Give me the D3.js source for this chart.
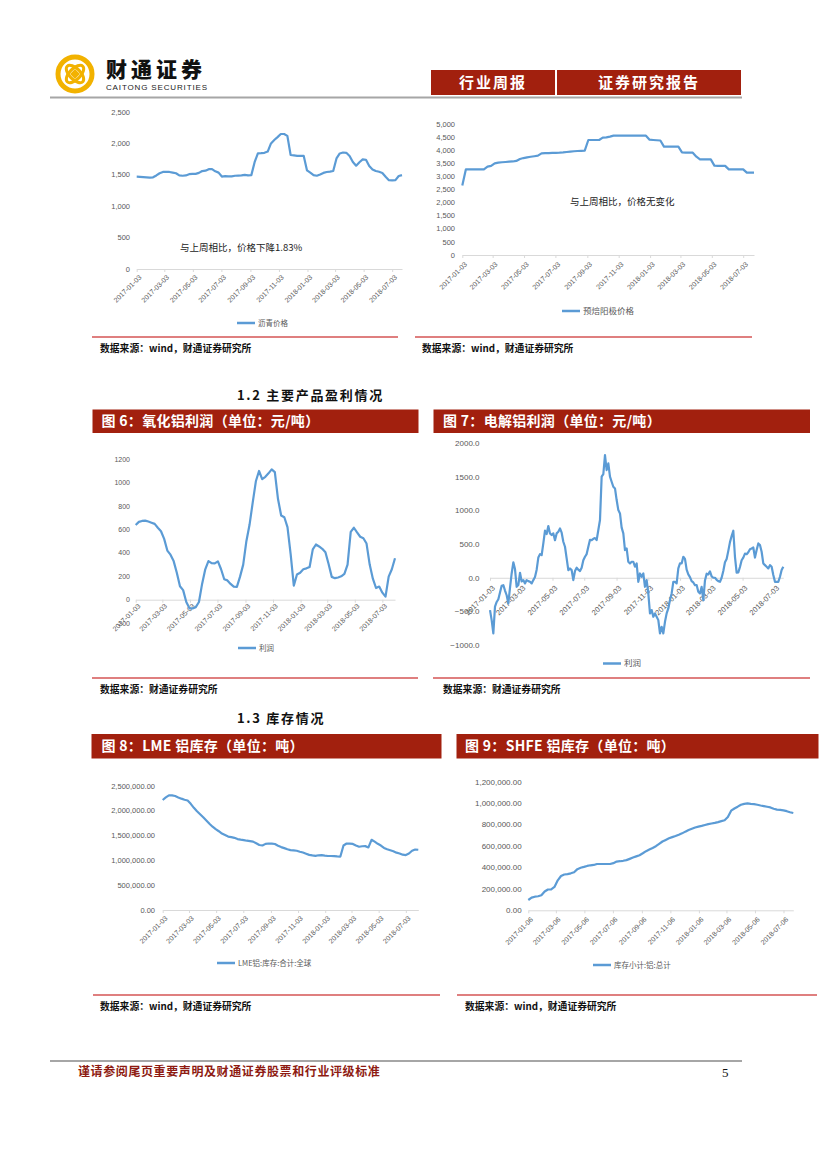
<!DOCTYPE html>
<html><head><meta charset="utf-8">
<script src="https://cdn.jsdelivr.net/npm/d3@7"></script>
<style>body{margin:0;background:#fff}svg{display:block}</style>
</head><body>
<svg id="page" width="827" height="1170"></svg>
<script>
// ---------------- DATA ----------------
const ticksA = ["2017-01-03","2017-03-03","2017-05-03","2017-07-03","2017-09-03","2017-11-03","2018-01-03","2018-03-03","2018-05-03","2018-07-03"];
const ticksB = ["2017-01-06","2017-03-06","2017-05-06","2017-07-06","2017-09-06","2017-11-06","2018-01-06","2018-03-06","2018-05-06","2018-07-06"];

// Fig (top-left): weekly from 2017-01-03
const cokePrice = [1470,1467,1463,1460,1455,1460,1490,1525,1545,1545,
 1545,1535,1525,1490,1485,1490,1510,1515,1515,1530,
 1560,1565,1590,1590,1555,1535,1472,1478,1475,1475,
 1485,1488,1490,1500,1490,1495,1700,1842,1845,1850,
 1870,2000,2054,2100,2150,2150,2120,1815,1808,1800,
 1800,1800,1570,1535,1495,1485,1505,1530,1545,1550,
 1560,1760,1840,1855,1850,1800,1705,1645,1700,1745,
 1740,1640,1585,1560,1548,1530,1470,1415,1410,1415,
 1480,1495];
const cokeTicks = [0,500,1000,1500,2000,2500];

// Fig (top-right): weekly from 2017-01-03
const anodePrice = [2650,3270,3270,3270,3270,3270,3270,3372,3400,3500,
 3525,3540,3550,3562,3570,3590,3664,3700,3728,3750,
 3770,3790,3880,3885,3890,3895,3900,3905,3915,3931,
 3945,3960,3970,3975,3982,4389,4389,4389,4389,4478,
 4490,4520,4555,4555,4555,4555,4555,4555,4555,4555,
 4555,4555,4400,4389,4380,4370,4135,4135,4135,4135,
 4135,3918,3910,3905,3905,3753,3651,3651,3651,3651,
 3410,3405,3400,3400,3270,3270,3270,3270,3270,3142,
 3142,3142];
const anodeTicks = [0,500,1000,1500,2000,2500,3000,3500,4000,4500,5000];

// Fig 6: alumina profit, weekly from 2017-01-03
const aluminaProfit = [638,665,673,676,668,658,648,615,585,520,
 420,385,330,230,115,82,-20,-74,-74,-64,
 -20,135,260,330,312,311,328,260,175,165,
 135,112,110,197,300,500,640,830,1012,1100,
 1030,1050,1080,1114,1090,860,720,705,620,390,
 120,215,230,260,268,280,430,472,455,435,
 405,305,195,184,190,200,220,300,580,615,
 575,538,525,480,300,180,100,112,60,26,
 197,260,354];
const aluminaTicks = [-200,0,200,400,600,800,1000,1200];

// Fig 7: electrolytic aluminium profit, every 3.2 days from 2017-01-03
const electroProfit = [-481,-630,-828,-430,-360,-320,-220,-120,-110,-190,
 -260,-382,-150,64,230,130,-134,-109,74,-55,
 -35,-84,-35,-50,-60,-84,-35,10,120,300,
 352,337,511,700,650,770,660,635,660,560,
 660,685,734,670,536,461,288,114,139,114,
 -35,100,150,120,100,150,260,312,352,461,
 565,560,580,590,560,710,860,1503,1540,1825,
 1602,1701,1503,1428,1354,1329,1156,1007,957,745,
 660,412,436,238,213,238,238,164,213,-60,
 64,15,64,-134,-35,-233,-530,-481,-580,-530,
 -580,-630,-828,-729,-828,-655,-530,-456,-332,-233,
 -60,-60,-84,139,213,213,312,280,120,50,
 10,-50,-70,-110,-109,-208,-233,-134,-332,-40,
 60,50,95,20,0,0,-30,-50,-60,0,
 100,230,280,400,530,620,700,312,75,80,
 160,260,300,360,350,380,425,436,450,300,
 412,511,486,387,213,188,164,139,188,164,
 40,-60,-60,-60,15,114,164];
const electroTicks = [-1000,-500,0,500,1000,1500,2000];

// Fig 8: LME stock (t), weekly from 2017-01-03
const lmeStock = [2218000,2270000,2310000,2310000,2298000,2270000,2245000,2222000,2207000,2140000,
 2060000,1990000,1930000,1870000,1805000,1740000,1680000,1630000,1588000,1540000,
 1510000,1480000,1470000,1455000,1430000,1418000,1410000,1397000,1387000,1378000,
 1345000,1310000,1300000,1333000,1341000,1338000,1331000,1295000,1268000,1248000,
 1225000,1208000,1202000,1195000,1175000,1158000,1135000,1112000,1100000,1090000,
 1103000,1105000,1095000,1089000,1089000,1087000,1080000,1078000,1300000,1340000,
 1340000,1332000,1300000,1275000,1285000,1288000,1262000,1415000,1378000,1335000,
 1300000,1252000,1225000,1205000,1185000,1156000,1140000,1115000,1108000,1140000,
 1195000,1220000,1215000];
const lmeTicks = [0,500000,1000000,1500000,2000000,2500000];

// Fig 9: SHFE stock (t), weekly from 2017-01-06
const shfeStock = [96000,118000,127000,131000,140000,175000,194000,196000,218000,280000,
 320000,334000,338000,345000,355000,384000,397000,405000,414000,420000,
 423000,432000,432000,432000,432000,432000,440000,455000,458000,462000,
 468000,480000,492000,503000,514000,532000,552000,567000,582000,598000,
 620000,642000,657000,672000,683000,693000,705000,718000,734000,749000,
 761000,773000,781000,788000,796000,804000,810000,816000,823000,832000,
 840000,870000,930000,950000,967000,985000,993000,997000,993000,990000,
 985000,978000,972000,966000,960000,948000,940000,937000,933000,925000,
 915000,908000];
const shfeTicks = [0,200000,400000,600000,800000,1000000,1200000];

// ---------------- DRAWING ----------------
const svg = d3.select("#page");
svg.append("rect").attr("width",827).attr("height",1170).attr("fill","#fff");
const RED = "#A2200E", BLUE = "#5B9BD5", GRAY = "#595959", AX = "#D9D9D9";
const CJK = "'Noto Sans CJK SC','Noto Sans',sans-serif";
const NUM = "'Liberation Sans','DejaVu Sans',sans-serif";
const parse = d3.utcParse("%Y-%m-%d");
const fmtDate = d3.utcFormat("%Y-%m-%d");
function makeDates(start, n, step){ const s = +parse(start); return d3.range(n).map(i => new Date(s + i*step*864e5)); }

function lineChart(o){
  const dates = makeDates(o.start, o.values.length, o.step || 7);
  const x = d3.scaleUtc().domain([dates[0], dates[dates.length-1]]).range([o.x0, o.x1]);
  const y = d3.scaleLinear().domain(o.yDomain).range([o.yB, o.yT]);
  const g = svg.append("g");
  g.selectAll("text.yl").data(o.yTicks).join("text")
    .attr("x", o.yLabelX).attr("y", d => y(d)).attr("dy","0.35em")
    .attr("text-anchor","end").attr("font-family", NUM).attr("font-size", o.yFont || 7.5)
    .attr("fill", GRAY).text(o.yFmt);
  const ay = y(o.axisAt || 0);
  const axis = d3.axisBottom(x).tickValues(o.xTicks.map(parse)).tickSize(3).tickSizeOuter(0).tickFormat(fmtDate);
  const ag = g.append("g").attr("transform", `translate(0,${ay})`).call(axis);
  ag.select(".domain").attr("stroke", AX);
  ag.selectAll(".tick line").attr("stroke", AX);
  ag.selectAll(".tick text").attr("x",0).attr("y",0).attr("dy","0.35em")
    .attr("text-anchor","end").attr("transform", `translate(3,${o.labOff}) rotate(-45)`)
    .attr("font-family", NUM).attr("font-size", o.xFont || 7).attr("fill", GRAY);
  const line = d3.line().x((d,i) => x(dates[i])).y(d => y(d));
  g.append("path").datum(o.values).attr("d", line).attr("fill","none")
    .attr("stroke", BLUE).attr("stroke-width", 2.2).attr("stroke-linejoin","round");
  g.append("line").attr("x1", o.lx).attr("x2", o.lx + 18).attr("y1", o.ly).attr("y2", o.ly)
    .attr("stroke", BLUE).attr("stroke-width", 2.5);
  g.append("text").attr("x", o.lx + 21).attr("y", o.ly).attr("dy","0.35em")
    .attr("font-family", CJK).attr("font-size", o.legFont || 7.5).attr("fill", GRAY).text(o.legend);
  if (o.note) g.append("text").attr("x", o.note.x).attr("y", o.note.y).attr("dy","0.35em")
    .attr("font-family", CJK).attr("font-size", 9.5).attr("fill","#222").text(o.note.text);
}

const fmtComma = d3.format(",");
const fmt1 = d3.format(".1f");
const fmt2c = d3.format(",.2f");

lineChart({start:"2017-01-03", values:cokePrice, x0:136.7, x1:402, yDomain:[0,2500], yB:269, yT:112,
  yTicks:cokeTicks, yFmt:fmtComma, yLabelX:130, xTicks:ticksA, labOff:7, lx:237, ly:323,
  legend:"沥青价格", note:{x:180, y:248, text:"与上周相比，价格下降1.83%"}});
lineChart({start:"2017-01-03", values:anodePrice, x0:462.3, x1:754, yDomain:[0,5000], yB:255, yT:124,
  yTicks:anodeTicks, yFmt:fmtComma, yLabelX:455, xTicks:ticksA, labOff:8, lx:562, ly:311,
  legend:"预焙阳极价格", legFont:8.5, note:{x:570, y:202, text:"与上周相比，价格无变化"}});
lineChart({start:"2017-01-03", values:aluminaProfit, x0:135.7, x1:395, yDomain:[-200,1200], yB:623.1, yT:459.3,
  yTicks:aluminaTicks, yFmt:d=>d, yLabelX:130, yFont:7, xTicks:ticksA, labOff:5, lx:238, ly:648,
  legend:"利润"});
lineChart({start:"2017-01-03", step:3.2, values:electroProfit, x0:490, x1:783.3, yDomain:[-1000,2000], yB:645, yT:443.3,
  yTicks:electroTicks, yFmt:fmt1, yLabelX:479.5, yFont:8, xTicks:ticksA, xFont:7.5, labOff:9, lx:603, ly:663.5,
  legend:"利润", legFont:8.5});
lineChart({start:"2017-01-03", values:lmeStock, x0:162.7, x1:418.3, yDomain:[0,2500000], yB:910, yT:786,
  yTicks:lmeTicks, yFmt:fmt2c, yLabelX:155, xTicks:ticksA, labOff:7, lx:217, ly:963,
  legend:"LME铝:库存:合计:全球"});
lineChart({start:"2017-01-06", values:shfeStock, x0:528.3, x1:793.3, yDomain:[0,1200000], yB:910.3, yT:781.7,
  yTicks:shfeTicks, yFmt:fmt2c, yLabelX:521.7, yFont:8, xTicks:ticksB, labOff:8, lx:593, ly:965,
  legend:"库存小计:铝:总计"});

// ---------------- PAGE FURNITURE ----------------
// logo
const logo = svg.append("g").attr("transform","translate(75,74)");
logo.append("circle").attr("r",17).attr("fill","none").attr("stroke","#F2B200").attr("stroke-width",5);
logo.append("ellipse").attr("rx",11).attr("ry",5.5).attr("transform","rotate(45)").attr("fill","none").attr("stroke","#F2B200").attr("stroke-width",3);
logo.append("ellipse").attr("rx",11).attr("ry",5.5).attr("transform","rotate(-45)").attr("fill","none").attr("stroke","#F2B200").attr("stroke-width",3);
logo.append("rect").attr("x",-3.5).attr("y",-3.5).attr("width",7).attr("height",7).attr("transform","rotate(45)").attr("fill","#F2B200");
svg.append("text").attr("x",106).attr("y",77).attr("font-family",CJK).attr("font-weight",900)
  .attr("font-size",21).attr("letter-spacing",4).attr("fill","#111").text("财通证券");
svg.append("text").attr("x",106).attr("y",90).attr("font-family",NUM).attr("font-size",8)
  .attr("textLength",101).attr("fill","#222").text("CAITONG SECURITIES");

const hdr = [{t:"行业周报", x:431, w:124},{t:"证券研究报告", x:557, w:184}];
svg.selectAll("rect.hb").data(hdr).join("rect").attr("x",d=>d.x).attr("y",70).attr("width",d=>d.w).attr("height",25).attr("fill",RED);
svg.selectAll("text.hb").data(hdr).join("text").attr("x",d=>d.x+d.w/2).attr("y",82.5).attr("dy","0.35em")
  .attr("text-anchor","middle").attr("font-family",CJK).attr("font-weight",700).attr("font-size",15)
  .attr("letter-spacing",2).attr("fill","#fff").text(d=>d.t);
svg.append("line").attr("x1",50).attr("x2",742).attr("y1",97.5).attr("y2",97.5).attr("stroke","#A6A6A6").attr("stroke-width",2);

// red separator lines
const seps = [[92,398,337],[415,752,337],[92,418,678],[433,810,678],[93,440,995],[457,817,995]];
svg.selectAll("line.sep").data(seps).join("line").attr("x1",d=>d[0]).attr("x2",d=>d[1]).attr("y1",d=>d[2]).attr("y2",d=>d[2])
  .attr("stroke","#C00000").attr("stroke-width",1.2);

// sources
const srcs = [[100,349,"数据来源：wind，财通证券研究所"],[422,349,"数据来源：wind，财通证券研究所"],
  [100,689.5,"数据来源：财通证券研究所"],[443,690,"数据来源：财通证券研究所"],
  [100,1006.5,"数据来源：wind，财通证券研究所"],[465,1006.5,"数据来源：wind，财通证券研究所"]];
svg.selectAll("text.src").data(srcs).join("text").attr("x",d=>d[0]).attr("y",d=>d[1]).attr("dy","0.35em")
  .attr("font-family",CJK).attr("font-weight",700).attr("font-size",9.8).attr("fill","#111").text(d=>d[2]);

// section headings
const secs = [[237,395,"1.2  主要产品盈利情况"],[237,718,"1.3  库存情况"]];
svg.selectAll("text.sec").data(secs).join("text").attr("x",d=>d[0]).attr("y",d=>d[1]).attr("dy","0.35em")
  .attr("font-family",CJK).attr("font-weight",700).attr("font-size",13).attr("letter-spacing",1.7)
  .attr("fill","#111").text(d=>d[2]);

// figure title bars
const bars = [[92.5,409.5,326,23.5,"图 6：氧化铝利润（单位：元/吨）",101.5],
  [433.5,409.5,376.5,23.5,"图 7：电解铝利润（单位：元/吨）",443],
  [91.5,734,350,24.5,"图 8：LME 铝库存（单位：吨）",101.5],
  [456.5,734,362,24.5,"图 9：SHFE 铝库存（单位：吨）",465]];
svg.selectAll("rect.bar").data(bars).join("rect").attr("x",d=>d[0]).attr("y",d=>d[1]).attr("width",d=>d[2]).attr("height",d=>d[3]).attr("fill",RED);
svg.selectAll("text.bar").data(bars).join("text").attr("x",d=>d[5]).attr("y",d=>d[1]+d[3]/2).attr("dy","0.36em")
  .attr("font-family",CJK).attr("font-weight",700).attr("font-size",14).attr("letter-spacing",0.3)
  .attr("fill","#fff").text(d=>d[4]);

// footer
svg.append("line").attr("x1",50).attr("x2",742).attr("y1",1061).attr("y2",1061).attr("stroke","#A6A6A6").attr("stroke-width",2);
svg.append("text").attr("x",78).attr("y",1072).attr("dy","0.35em").attr("font-family",CJK).attr("font-weight",700)
  .attr("font-size",12).attr("letter-spacing",0.6).attr("fill","#8E1B12").text("谨请参阅尾页重要声明及财通证券股票和行业评级标准");
svg.append("text").attr("x",722).attr("y",1072).attr("dy","0.35em").attr("font-family","'Liberation Serif',serif")
  .attr("font-size",13).attr("fill","#111").text("5");
</script>
</body></html>
